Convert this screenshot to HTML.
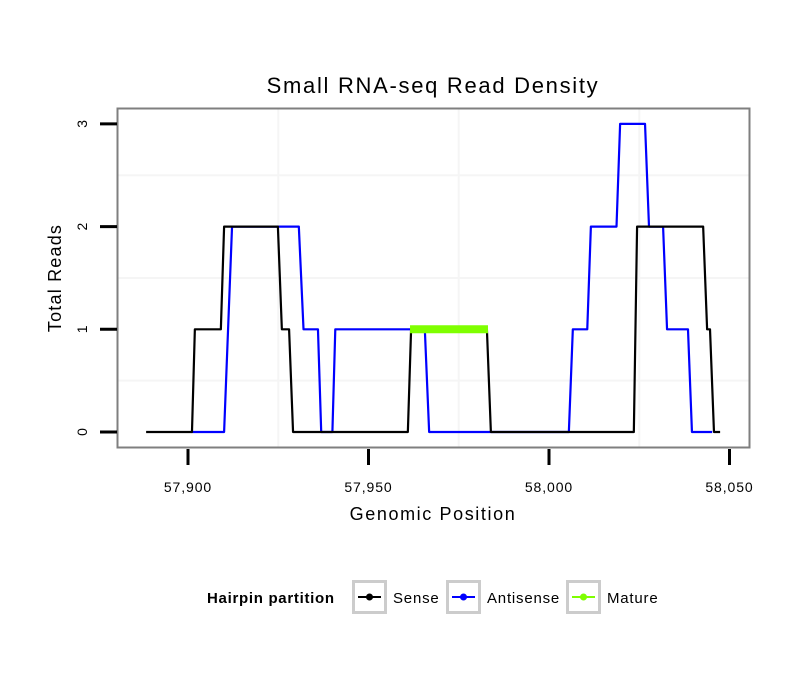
<!DOCTYPE html>
<html><head><meta charset="utf-8"><style>
body{margin:0;background:#fff;}
svg text{font-family:"Liberation Sans",sans-serif;}
</style></head><body>
<svg id="chart" width="810" height="690" xmlns="http://www.w3.org/2000/svg">
<rect width="810" height="690" fill="#fff"/>
<text x="433" y="93" font-size="22" letter-spacing="1.7" text-anchor="middle">Small RNA-seq Read Density</text>
<g id="grid"></g>
<g id="series"></g>
<rect x="117.5" y="108.5" width="632" height="339" fill="none" stroke="#7f7f7f" stroke-width="2"/>
<g id="axes"></g>
<text x="433" y="520" font-size="18" letter-spacing="1.6" text-anchor="middle">Genomic Position</text>
<text transform="translate(61,278) rotate(-90)" font-size="18" letter-spacing="1.2" text-anchor="middle">Total Reads</text>
<g>
<text x="207" y="603" font-size="15" letter-spacing="0.7" font-weight="bold">Hairpin partition</text>
<g>
<rect x="353.5" y="581.5" width="32" height="31" fill="#fff" stroke="#ccc" stroke-width="3"/>
<line x1="358" y1="597" x2="381" y2="597" stroke="#000" stroke-width="2"/><circle cx="369.5" cy="597" r="3.5" fill="#000"/>
<text x="393" y="603" font-size="15" letter-spacing="0.8">Sense</text></g>
<g>
<rect x="447.5" y="581.5" width="32" height="31" fill="#fff" stroke="#ccc" stroke-width="3"/>
<line x1="452" y1="597" x2="475" y2="597" stroke="#0000ff" stroke-width="2"/><circle cx="463.5" cy="597" r="3.5" fill="#0000ff"/>
<text x="487" y="603" font-size="15" letter-spacing="0.8">Antisense</text></g>
<g>
<rect x="567.5" y="581.5" width="32" height="31" fill="#fff" stroke="#ccc" stroke-width="3"/>
<line x1="572" y1="597" x2="595" y2="597" stroke="#7fff00" stroke-width="2"/><circle cx="583.5" cy="597" r="3.5" fill="#7fff00"/>
<text x="607" y="603" font-size="15" letter-spacing="0.8">Mature</text></g>
</g>
</svg>
<script>
const xTicks=[57900,57950,58000,58050];
const xTickLabels=["57,900","57,950","58,000","58,050"];
const yTicks=[0,1,2,3];
const yTickLabels=["0","1","2","3"];
const senseX=[57888.4,57901.1,57901.9,57909.1,57910.0,57924.9,57926.0,57928.0,57929.1,57960.9,57961.8,57982.8,57983.9,58023.5,58024.4,58042.7,58043.8,58044.6,58045.7,58047.4];
const senseY=[0,0,1,1,2,2,1,1,0,0,1,1,0,0,2,2,1,1,0,0];
const antiX=[57901.0,57910.0,57912.2,57930.7,57932.0,57936.0,57936.9,57940.0,57940.8,57965.6,57966.8,58005.5,58006.6,58010.6,58011.6,58018.7,58019.7,58026.6,58027.7,58031.6,58032.7,58038.5,58039.6,58045.2];
const antiY=[0,0,2,2,1,1,0,0,1,1,0,0,1,1,2,2,3,3,2,2,1,1,0,0];
const matureX=[57961.5,57983.1];
const matureY=[1,1];

const NS="http://www.w3.org/2000/svg";
const xs=v=>188+(v-57900)*3.61;
const ys=v=>432-v*102.7;
function mk(tag,attrs,parent){const e=document.createElementNS(NS,tag);for(const k in attrs)e.setAttribute(k,attrs[k]);parent.appendChild(e);return e;}
const grid=document.getElementById('grid'),axes=document.getElementById('axes'),series=document.getElementById('series');
for(let i=0;i<xTicks.length-1;i++){const x=xs((xTicks[i]+xTicks[i+1])/2);
const g=mk('line',{x1:x,x2:x,y1:109,y2:447,stroke:'#f5f5f5','stroke-width':2},grid);

}
for(let i=0;i<yTicks.length-1;i++){const y=ys((yTicks[i]+yTicks[i+1])/2);
const g=mk('line',{x1:118,x2:749,y1:y,y2:y,stroke:'#f5f5f5','stroke-width':2},grid);

}
xTicks.forEach((v,i)=>{const x=xs(v);
const t=mk('line',{x1:x,x2:x,y1:449,y2:465,stroke:'#000','stroke-width':3},axes);


const l=mk('text',{x:x,y:492,'font-size':14,'letter-spacing':0.9,'text-anchor':'middle'},axes);l.textContent=xTickLabels[i];

});
yTicks.forEach((v,i)=>{const y=ys(v);
const t=mk('line',{x1:100,x2:117,y1:y,y2:y,stroke:'#000','stroke-width':3},axes);


const l=mk('text',{transform:`translate(87,${y}) rotate(-90)`,'font-size':14,'text-anchor':'middle'},axes);l.textContent=yTickLabels[i];

});
function line(X,Y,color,w,name){const p=mk('polyline',{points:X.map((x,i)=>xs(x)+','+ys(Y[i])).join(' '),fill:'none',stroke:color,'stroke-width':w,'stroke-linejoin':'round'},series);

}
line(antiX,antiY,'#0000ff',2.2,'antisense-line');
line(senseX,senseY,'#000',2.2,'sense-line');
line(matureX,matureY,'#7fff00',8,'mature-line');
</script>
</body></html>
